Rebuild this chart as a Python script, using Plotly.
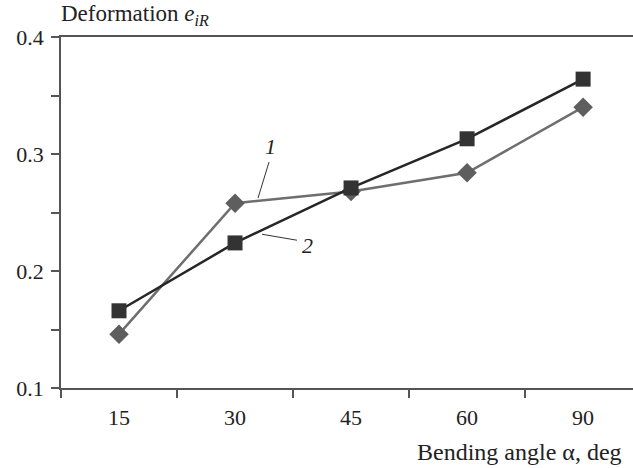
import plotly.graph_objects as go

angles = ["15", "30", "45", "60", "90"]
series1 = [0.146, 0.258, 0.268, 0.284, 0.340]
series2 = [0.166, 0.224, 0.271, 0.313, 0.364]
y_ticks = [0.1, 0.15, 0.2, 0.25, 0.3, 0.35, 0.4]
y_ticktext = ["0.1", "", "0.2", "", "0.3", "", "0.4"]

FONT = "Liberation Serif, Times New Roman, serif"
FS = 22

fig = go.Figure()
fig.add_trace(go.Scatter(
    x=angles, y=series1, mode="lines+markers",
    line=dict(color="#6e6e6e", width=2.5),
    marker=dict(symbol="diamond", size=15, color="#5e5e5e"),
    showlegend=False,
))
fig.add_trace(go.Scatter(
    x=angles, y=series2, mode="lines+markers",
    line=dict(color="#262626", width=2.5),
    marker=dict(symbol="square", size=15, color="#333333"),
    showlegend=False,
))

# curve labels with leader lines
fig.add_shape(type="line", xref="x", yref="y", x0=1.293, y0=0.2931, x1=1.198, y1=0.2623,
              line=dict(color="#333", width=1))
fig.add_shape(type="line", xref="x", yref="y", x0=1.534, y0=0.2263, x1=1.233, y1=0.2314,
              line=dict(color="#333", width=1))
fig.add_annotation(x=1.302, y=0.3065, xref="x", yref="y", text="<i>1</i>", showarrow=False,
                   font=dict(family=FONT, size=22, color="#222"))
fig.add_annotation(x=1.625, y=0.222, xref="x", yref="y", text="<i>2</i>", showarrow=False,
                   font=dict(family=FONT, size=22, color="#222"))

fig.add_annotation(x=0, y=1, xref="paper", yref="paper", xanchor="left", yanchor="bottom",
                   xshift=-2, yshift=6, showarrow=False,
                   text="Deformation <i>e</i><sub><i>iR</i></sub>",
                   font=dict(family=FONT, size=23, color="#222"))
fig.add_annotation(x=1, y=0, xref="paper", yref="paper", xanchor="right", yanchor="middle",
                   xshift=-9, yshift=-64, showarrow=False,
                   text="Bending angle α, deg",
                   font=dict(family=FONT, size=24, color="#222"))

fig.update_xaxes(
    type="category", range=[-0.5, 4.43],
    showline=True, linecolor="#555", linewidth=1.5, mirror=True,
    ticks="outside", tickson="boundaries", ticklen=8, tickcolor="#555", tickwidth=1.5,
    showgrid=False, zeroline=False, ticklabelstandoff=9,
    tickfont=dict(family=FONT, size=FS, color="#222"),
)
fig.update_yaxes(
    range=[0.1, 0.4], tickvals=y_ticks, ticktext=y_ticktext,
    showline=True, linecolor="#555", linewidth=1.5,
    ticks="outside", ticklen=8, tickcolor="#555", tickwidth=1.5,
    showgrid=False, zeroline=False, ticklabelstandoff=3,
    tickfont=dict(family=FONT, size=FS, color="#222"),
)
fig.update_layout(
    width=633, height=468,
    margin=dict(l=61, r=0, t=37, b=80),
    plot_bgcolor="white", paper_bgcolor="white",
)
fig.write_html("out.html", config={"displayModeBar": False},
               post_script="document.body.style.margin='0';")
